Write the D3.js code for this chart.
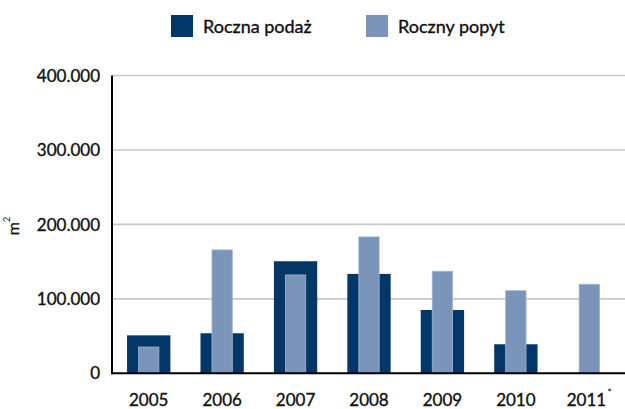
<!DOCTYPE html>
<html>
<head>
<meta charset="utf-8">
<script src="https://cdn.jsdelivr.net/npm/d3@7"></script>
<style>
  body { margin: 0; background: #fff; }
  svg text { font-family: Lato, "Open Sans", sans-serif; fill: #111; stroke: #111; stroke-width: 0.35px; }
</style>
</head>
<body>
<div id="chart"></div>
<script>
let width = 625;
let height = 409;

// data (m2)
let years = ["2005", "2006", "2007", "2008", "2009", "2010", "2011"];
let podaz = [51000, 53800, 150500, 133500, 85000, 39000, 0];
let popyt = [35300, 165700, 132100, 183200, 137100, 111000, 119600];
let yTicks = [0, 100000, 200000, 300000, 400000];
let seriesNames = ["Roczna podaż", "Roczny popyt"];
let colors = ["#033767", "#7a94ba"];

let svg = d3.select("#chart")
  .append("svg")
  .attr("width", width)
  .attr("height", height);

let x = d3.scaleBand().domain(years).range([112, 626]).paddingInner(0.41).paddingOuter(0.205);
let y = d3.scaleLinear().domain([0, 400000]).range([373.3, 75.5]);

let fmt = v => v == 0 ? "0" : d3.format(",")(v).replace(/,/g, ".");

//////////////////////
//   gridlines
//////////////////////
svg.append("g")
  .selectAll("line")
  .data(yTicks.filter(t => t > 0))
  .enter()
  .append("line")
    .attr("x1", 112)
    .attr("x2", width)
    .attr("y1", d => y(d))
    .attr("y2", d => y(d))
    .attr("stroke", "#c8c8c8")
    .attr("stroke-width", 1.6);

//////////////////////
//   bars
//////////////////////
svg.append("g")
  .selectAll("rect")
  .data(years)
  .enter()
  .append("rect")
    .attr("x", d => x(d))
    .attr("y", (d, i) => y(podaz[i]))
    .attr("width", x.bandwidth())
    .attr("height", (d, i) => y(0) - y(podaz[i]))
    .attr("fill", colors[0]);

let lw = x.bandwidth() * 0.47;
svg.append("g")
  .selectAll("rect")
  .data(years)
  .enter()
  .append("rect")
    .attr("x", d => x(d) + (x.bandwidth() - lw) / 2)
    .attr("y", (d, i) => y(popyt[i]))
    .attr("width", lw)
    .attr("height", (d, i) => y(0) - y(popyt[i]))
    .attr("fill", colors[1])
    .attr("stroke", "#a3b5d0")
    .attr("stroke-width", 0.8);

//////////////////////
//   axes
//////////////////////
svg.append("line")
  .attr("x1", 112).attr("x2", 112)
  .attr("y1", y(400000)).attr("y2", y(0) + 1)
  .attr("stroke", "#000").attr("stroke-width", 2);
svg.append("line")
  .attr("x1", 111).attr("x2", width)
  .attr("y1", y(0)).attr("y2", y(0))
  .attr("stroke", "#000").attr("stroke-width", 2);

svg.append("g")
  .selectAll("text")
  .data(yTicks)
  .enter()
  .append("text")
    .attr("x", 100)
    .attr("y", d => y(d))
    .attr("dy", "0.36em")
    .attr("text-anchor", "end")
    .attr("font-size", "17px")
    .text(d => fmt(d));

let xl = svg.append("g")
  .selectAll("text")
  .data(years)
  .enter()
  .append("text")
    .attr("x", d => x(d) + x.bandwidth() / 2)
    .attr("y", 406)
    .attr("text-anchor", "middle")
    .attr("font-size", "17px");
xl.append("tspan").text(d => d);
xl.filter(d => d == "2011").append("tspan")
  .attr("font-size", "11px")
  .attr("dx", "1")
  .attr("dy", "-0.8em")
  .style("stroke-width", "0")
  .text("*");

// y title
let yt = svg.append("text")
  .attr("transform", "translate(18.5,226) rotate(-90)")
  .attr("text-anchor", "middle")
  .attr("font-size", "16px");
yt.append("tspan").text("m");
yt.append("tspan").attr("font-size", "9px").attr("dy", "-0.9em").style("stroke-width", "0").text("2");

//////////////////////
//   legend
//////////////////////
let legX = [171, 366];
let leg = svg.append("g")
  .selectAll("g")
  .data(seriesNames)
  .enter()
  .append("g")
    .attr("transform", (d, i) => "translate(" + legX[i] + ",15)");
leg.append("rect")
  .attr("width", 22)
  .attr("height", 22)
  .attr("fill", (d, i) => colors[i]);
leg.append("text")
  .attr("x", 32)
  .attr("y", 18)
  .attr("font-size", "18px")
  .text(d => d);
</script>
</body>
</html>
